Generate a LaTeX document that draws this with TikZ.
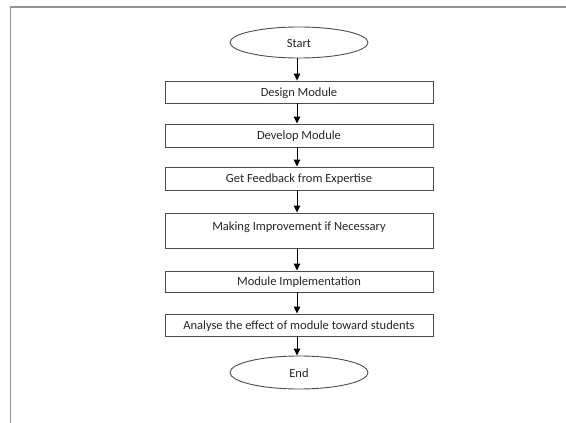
\documentclass[tikz,border=0pt]{standalone}
\usepackage{fontspec}
\setmainfont{Carlito}
\usetikzlibrary{shapes.geometric,arrows.meta}
\begin{document}
\begin{tikzpicture}[x=1pt,y=1pt,
  box/.style={draw=black!70,line width=0.9pt,rectangle,minimum width=268pt,inner sep=0pt},
  term/.style={draw=black!70,line width=0.9pt,ellipse,minimum width=138pt,inner sep=0pt},
  lbl/.style={font=\fontsize{12.5}{14}\selectfont,text=black!85},
  flow/.style={draw=black,line width=0.9pt,-{Triangle[length=7pt,width=6.5pt]}}]
\useasboundingbox (0,0) rectangle (566,-423);
% frame
\draw[gray!85,line width=1.6pt] (10.5,-423) -- (10.5,-7) -- (566,-7);
% nodes
\node[term,minimum height=31pt] (start) at (299,-42.5) {};
\node[lbl] (tstart) at (299,-43) {Start};
\node[box,minimum height=22pt] (design) at (299,-92) {};
\node[lbl] (tdesign) at (299,-93) {Design Module};
\node[box,minimum height=23pt] (develop) at (299,-135.5) {};
\node[lbl] (tdevelop) at (299,-136) {Develop Module};
\node[box,minimum height=23pt] (feedback) at (299,-178.5) {};
\node[lbl] (tfeedback) at (299,-179) {Get Feedback from Expertise};
\node[box,minimum height=35pt] (improve) at (299,-230.5) {};
\node[lbl] (timprove) at (299,-227) {Making Improvement if Necessary};
\node[box,minimum height=21pt] (impl) at (299,-281.5) {};
\node[lbl] (timpl) at (299,-282) {Module Implementation};
\node[box,minimum height=22pt] (analyse) at (299,-325) {};
\node[lbl] (tanalyse) at (299,-326) {Analyse the effect of module toward students};
\node[term,minimum height=33pt] (end) at (299,-372.5) {};
\node[lbl] (tend) at (299,-373) {End};
% arrows
\coordinate (ax) at (297,0);
\draw[flow] (start.south -| ax) -- (design.north -| ax);
\draw[flow] (design.south -| ax) -- (develop.north -| ax);
\draw[flow] (develop.south -| ax) -- (feedback.north -| ax);
\draw[flow] (feedback.south -| ax) -- (improve.north -| ax);
\draw[flow] (improve.south -| ax) -- (impl.north -| ax);
\draw[flow] (impl.south -| ax) -- (analyse.north -| ax);
\draw[flow] (analyse.south -| ax) -- (end.north -| ax);
\end{tikzpicture}
\end{document}
